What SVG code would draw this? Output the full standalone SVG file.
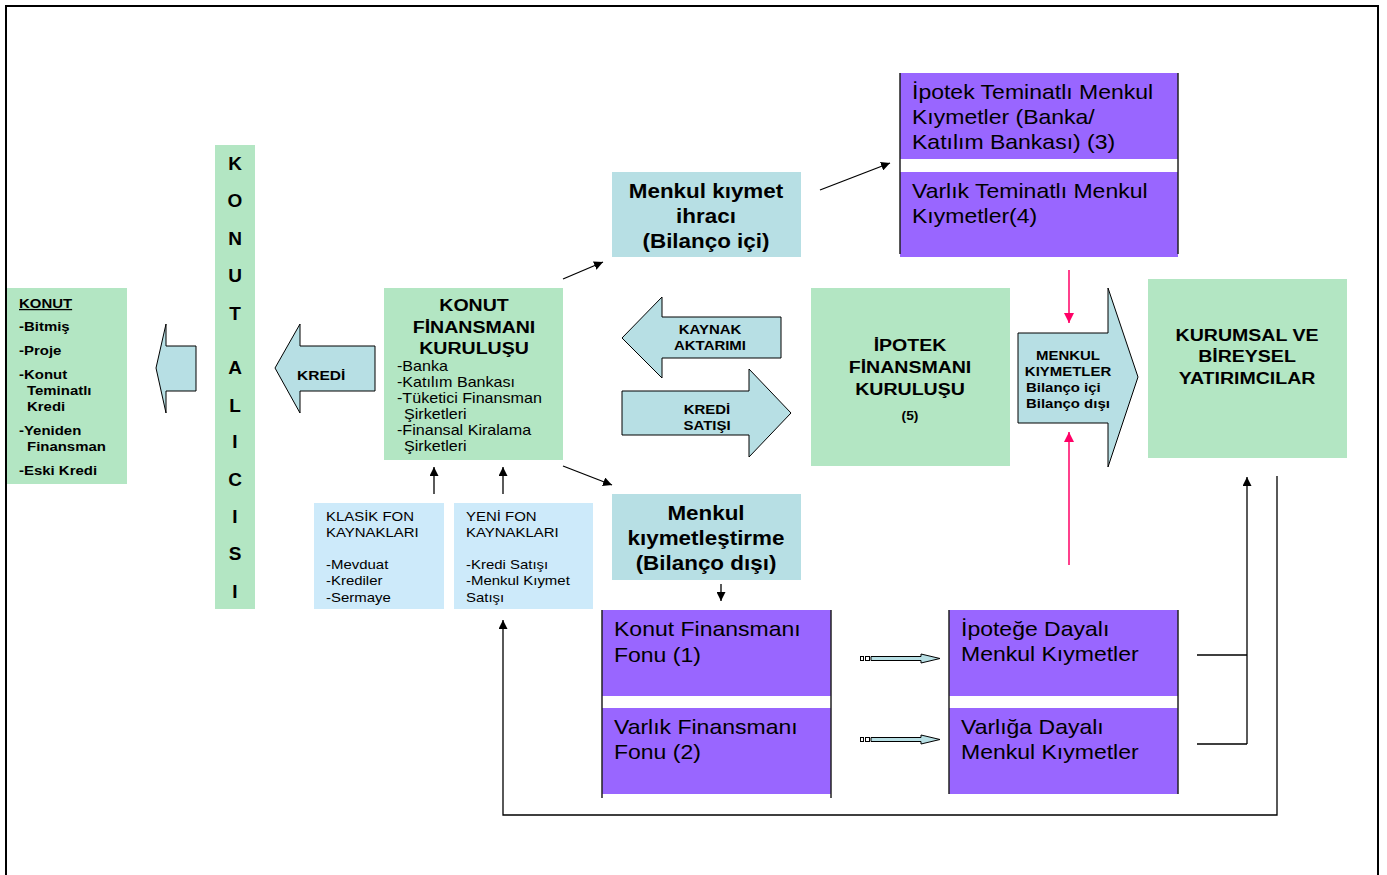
<svg xmlns="http://www.w3.org/2000/svg" width="1387" height="875" viewBox="0 0 1387 875">
<defs>
<style>
text{font-family:"Liberation Sans",Arial,sans-serif;fill:#000}
.b{font-weight:bold}
.green{fill:#b3e6c3}
.teal{fill:#b7dfe4}
.sky{fill:#cdeafa}
.purple{fill:#9966ff}
.edge{stroke:#222;stroke-width:1.5;fill:none}
.blk{fill:#b7dfe4;stroke:#000;stroke-width:1}
.con{stroke:#000;stroke-width:1.3;fill:none}
.pink{stroke:#ff0066;stroke-width:1.5;fill:none}
</style>
<marker id="ah" viewBox="0 0 10 10" refX="10" refY="5" markerWidth="9" markerHeight="9" markerUnits="userSpaceOnUse" orient="auto">
<path d="M0,0 L10,5 L0,10 z" fill="#000"/>
</marker>
<marker id="ahp" viewBox="0 0 10 10" refX="10" refY="5" markerWidth="10" markerHeight="10" markerUnits="userSpaceOnUse" orient="auto">
<path d="M0,0 L10,5 L0,10 z" fill="#ff0066"/>
</marker>
</defs>
<rect width="1387" height="875" fill="#fff"/>
<path d="M6,876 V6 H1378 V876" fill="none" stroke="#000" stroke-width="2"/>

<g id="konut">
<rect class="green" x="7" y="288" width="120" height="196"/>
<text class="b" font-size="13" transform="translate(19 308) scale(1.15 1)" text-decoration="underline">KONUT</text>
<text class="b" font-size="13" transform="translate(19 331) scale(1.15 1)">-Bitmiş</text>
<text class="b" font-size="13" transform="translate(19 355) scale(1.15 1)">-Proje</text>
<text class="b" font-size="13" transform="translate(19 379) scale(1.15 1)">-Konut</text>
<text class="b" font-size="13" transform="translate(27 395) scale(1.15 1)">Teminatlı</text>
<text class="b" font-size="13" transform="translate(27 411) scale(1.15 1)">Kredi</text>
<text class="b" font-size="13" transform="translate(19 435) scale(1.15 1)">-Yeniden</text>
<text class="b" font-size="13" transform="translate(27 451) scale(1.15 1)">Finansman</text>
<text class="b" font-size="13" transform="translate(19 475) scale(1.15 1)">-Eski Kredi</text>
</g>

<g id="arrow-konut">
<polygon class="blk" points="156,368 166,324 166,346 196,346 196,391 166,391 166,413"/>
</g>

<g id="konut-alicisi">
<rect class="green" x="215" y="145" width="40" height="464"/>
<g class="b" font-size="19" text-anchor="middle">
<text x="235" y="170">K</text>
<text x="235" y="207">O</text>
<text x="235" y="245">N</text>
<text x="235" y="282">U</text>
<text x="235" y="320">T</text>
<text x="235" y="374">A</text>
<text x="235" y="412">L</text>
<text x="235" y="448">I</text>
<text x="235" y="486">C</text>
<text x="235" y="523">I</text>
<text x="235" y="560">S</text>
<text x="235" y="598">I</text>
</g>
</g>

<g id="kredi-arrow">
<polygon class="blk" points="275,368 300,324 300,346 375,346 375,391 300,391 300,413"/>
<text class="b" font-size="13.5" transform="translate(297 380) scale(1.15 1)">KREDİ</text>
</g>

<g id="konut-finansmani">
<rect class="green" x="384" y="288" width="179" height="172"/>
<g class="b" font-size="17" text-anchor="middle">
<text transform="translate(474 311) scale(1.15 1)">KONUT</text>
<text transform="translate(474 333) scale(1.15 1)">FİNANSMANI</text>
<text transform="translate(474 354) scale(1.15 1)">KURULUŞU</text>
</g>
<g font-size="14">
<text transform="translate(397 371) scale(1.15 1)">-Banka</text>
<text transform="translate(397 387) scale(1.15 1)">-Katılım Bankası</text>
<text transform="translate(397 403) scale(1.15 1)">-Tüketici Finansman</text>
<text transform="translate(404 419) scale(1.15 1)">Şirketleri</text>
<text transform="translate(397 435) scale(1.15 1)">-Finansal Kiralama</text>
<text transform="translate(404 451) scale(1.15 1)">Şirketleri</text>
</g>
</g>

<g id="klasik-fon">
<rect class="sky" x="314" y="503" width="130" height="106"/>
<g font-size="13">
<text transform="translate(326 521) scale(1.15 1)">KLASİK FON</text>
<text transform="translate(326 537) scale(1.15 1)">KAYNAKLARI</text>
<text transform="translate(326 569) scale(1.15 1)">-Mevduat</text>
<text transform="translate(326 585) scale(1.15 1)">-Krediler</text>
<text transform="translate(326 602) scale(1.15 1)">-Sermaye</text>
</g>
</g>

<g id="yeni-fon">
<rect class="sky" x="454" y="503" width="139" height="106"/>
<g font-size="13">
<text transform="translate(466 521) scale(1.15 1)">YENİ FON</text>
<text transform="translate(466 537) scale(1.15 1)">KAYNAKLARI</text>
<text transform="translate(466 569) scale(1.15 1)">-Kredi Satışı</text>
<text transform="translate(466 585) scale(1.15 1)">-Menkul Kıymet</text>
<text transform="translate(466 602) scale(1.15 1)">Satışı</text>
</g>
</g>

<g id="menkul-ihraci">
<rect class="teal" x="612" y="172" width="189" height="85"/>
<g class="b" font-size="19.5" text-anchor="middle">
<text transform="translate(706 198) scale(1.15 1)">Menkul kıymet</text>
<text transform="translate(706 223) scale(1.15 1)">ihracı</text>
<text transform="translate(706 248) scale(1.15 1)">(Bilanço içi)</text>
</g>
</g>

<g id="ipotek-teminatli">
<rect class="purple" x="900" y="73" width="278" height="86"/>
<rect class="purple" x="900" y="172" width="278" height="85"/>
<line class="edge" x1="900" y1="73" x2="900" y2="254"/>
<line class="edge" x1="1178" y1="73" x2="1178" y2="254"/>
<g font-size="20">
<text transform="translate(912 99) scale(1.15 1)">İpotek Teminatlı Menkul</text>
<text transform="translate(912 124) scale(1.15 1)">Kıymetler (Banka/</text>
<text transform="translate(912 149) scale(1.15 1)">Katılım Bankası) (3)</text>
<text transform="translate(912 198) scale(1.15 1)">Varlık Teminatlı Menkul</text>
<text transform="translate(912 223) scale(1.15 1)">Kıymetler(4)</text>
</g>
</g>

<g id="kaynak-aktarimi">
<polygon class="blk" points="622,338 662,297 662,317 781,317 781,358 662,358 662,378"/>
<g class="b" font-size="13" text-anchor="middle">
<text transform="translate(710 334) scale(1.15 1)">KAYNAK</text>
<text transform="translate(710 350) scale(1.15 1)">AKTARIMI</text>
</g>
</g>

<g id="kredi-satisi">
<polygon class="blk" points="622,391 749,391 749,369 791,413 749,457 749,435 622,435"/>
<g class="b" font-size="13" text-anchor="middle">
<text transform="translate(707 414) scale(1.15 1)">KREDİ</text>
<text transform="translate(707 430) scale(1.15 1)">SATIŞI</text>
</g>
</g>

<g id="ipotek-finansmani">
<rect class="green" x="811" y="288" width="199" height="178"/>
<g class="b" font-size="17" text-anchor="middle">
<text transform="translate(910 351) scale(1.15 1)">İPOTEK</text>
<text transform="translate(910 373) scale(1.15 1)">FİNANSMANI</text>
<text transform="translate(910 395) scale(1.15 1)">KURULUŞU</text>
<text font-size="12" transform="translate(910 420) scale(1.15 1)">(5)</text>
</g>
</g>

<g id="menkul-kiymetler">
<polygon class="blk" points="1018,333 1108,333 1108,288 1138,377 1108,467 1108,423 1018,423"/>
<g class="b" font-size="13">
<text text-anchor="middle" transform="translate(1068 360) scale(1.15 1)">MENKUL</text>
<text text-anchor="middle" transform="translate(1068 376) scale(1.15 1)">KIYMETLER</text>
<text transform="translate(1026 392) scale(1.15 1)">Bilanço içi</text>
<text transform="translate(1026 408) scale(1.15 1)">Bilanço dışı</text>
</g>
</g>

<g id="kurumsal">
<rect class="green" x="1148" y="279" width="199" height="179"/>
<g class="b" font-size="17" text-anchor="middle">
<text transform="translate(1247 341) scale(1.15 1)">KURUMSAL VE</text>
<text transform="translate(1247 362) scale(1.15 1)">BİREYSEL</text>
<text transform="translate(1247 384) scale(1.15 1)">YATIRIMCILAR</text>
</g>
</g>

<g id="menkul-kiymetlestirme">
<rect class="teal" x="612" y="494" width="189" height="86"/>
<g class="b" font-size="19.5" text-anchor="middle">
<text transform="translate(706 520) scale(1.15 1)">Menkul</text>
<text transform="translate(706 545) scale(1.15 1)">kıymetleştirme</text>
<text transform="translate(706 570) scale(1.15 1)">(Bilanço dışı)</text>
</g>
</g>

<g id="fonlar">
<rect class="purple" x="602" y="610" width="229" height="86"/>
<rect class="purple" x="602" y="708" width="229" height="86"/>
<line class="edge" x1="602" y1="610" x2="602" y2="798"/>
<line class="edge" x1="831" y1="610" x2="831" y2="798"/>
<g font-size="20">
<text transform="translate(614 636) scale(1.15 1)">Konut Finansmanı</text>
<text transform="translate(614 662) scale(1.15 1)">Fonu (1)</text>
<text transform="translate(614 734) scale(1.15 1)">Varlık Finansmanı</text>
<text transform="translate(614 759) scale(1.15 1)">Fonu (2)</text>
</g>
</g>

<g id="dayali-menkul">
<rect class="purple" x="949" y="610" width="229" height="86"/>
<rect class="purple" x="949" y="708" width="229" height="86"/>
<line class="edge" x1="949" y1="610" x2="949" y2="794"/>
<line class="edge" x1="1178" y1="610" x2="1178" y2="794"/>
<g font-size="20">
<text transform="translate(961 636) scale(1.15 1)">İpoteğe Dayalı</text>
<text transform="translate(961 661) scale(1.15 1)">Menkul Kıymetler</text>
<text transform="translate(961 734) scale(1.15 1)">Varlığa Dayalı</text>
<text transform="translate(961 759) scale(1.15 1)">Menkul Kıymetler</text>
</g>
</g>

<g id="connectors">
<line class="con" x1="563" y1="279" x2="603" y2="262" marker-end="url(#ah)"/>
<line class="con" x1="820" y1="190" x2="890" y2="163" marker-end="url(#ah)"/>
<line class="con" x1="563" y1="466" x2="612" y2="485" marker-end="url(#ah)"/>
<line class="con" x1="434" y1="494" x2="434" y2="467" marker-end="url(#ah)"/>
<line class="con" x1="503" y1="494" x2="503" y2="467" marker-end="url(#ah)"/>
<line class="con" x1="721" y1="584" x2="721" y2="601" marker-end="url(#ah)"/>
<line class="pink" x1="1069" y1="270" x2="1069" y2="323" marker-end="url(#ahp)"/>
<line class="pink" x1="1069" y1="565" x2="1069" y2="432" marker-end="url(#ahp)"/>
<path class="con" d="M1197,655 H1247 M1197,744 H1247"/>
<path class="con" d="M1247,744 V477" marker-end="url(#ah)"/>
<path class="con" d="M1277,476 V815 H503 V620" marker-end="url(#ah)"/>
<g>
<rect x="860.5" y="656.5" width="3" height="4" fill="#fff" stroke="#000" stroke-width="1"/>
<rect x="865.5" y="656.5" width="4" height="4" fill="#fff" stroke="#000" stroke-width="1"/>
<polygon class="blk" points="871,656.5 921,656.5 921,654 940,658.5 921,663 921,660.5 871,660.5"/>
<rect x="860.5" y="737.5" width="3" height="4" fill="#fff" stroke="#000" stroke-width="1"/>
<rect x="865.5" y="737.5" width="4" height="4" fill="#fff" stroke="#000" stroke-width="1"/>
<polygon class="blk" points="871,737.5 921,737.5 921,735 940,739.5 921,744 921,741.5 871,741.5"/>
</g>
</g>
</svg>
